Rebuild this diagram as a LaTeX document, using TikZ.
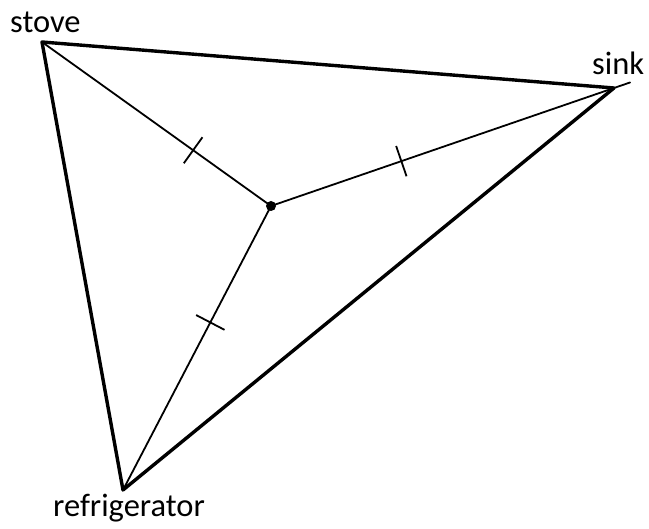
\documentclass[tikz,border=0pt]{standalone}
\usepackage{fontspec}
\setmainfont{Carlito}
\usetikzlibrary{positioning}

\begin{document}
\begin{tikzpicture}[x=1pt, y=-1pt,
  side/.style={line width=3.4pt,line join=round},
  path/.style={line width=1.8pt,line cap=round},
  tickmark/.style={fill,inner sep=0pt,minimum width=1.8pt,minimum height=32pt,sloped},
  label/.style={inner sep=0pt,anchor=base west,font=\fontsize{32.5}{38}\selectfont}]
\useasboundingbox (0,0) rectangle (649,529);
\coordinate (stove) at (42,42);
\coordinate (sink) at (614,88);
\coordinate (fridge) at (123,490);
\coordinate (center) at (271,206);
\node[label] (stovelabel) at (10,33) {stove};
\node[label] (sinklabel) at (592,75) {sink};
\node[label] (fridgelabel) at (53,517) {refrigerator};
\draw[side] (stove)--(sink)--(fridge)--cycle;
\draw[path] (stove)-- node[tickmark,pos=0.66] {} (center);
\draw[path,shorten >=-17pt] (center)-- node[tickmark,pos=0.38] {} (sink);
\draw[path] (center)-- node[tickmark,pos=0.41] {} (fridge);
\fill (center) circle (5pt);
\end{tikzpicture}
\end{document}
